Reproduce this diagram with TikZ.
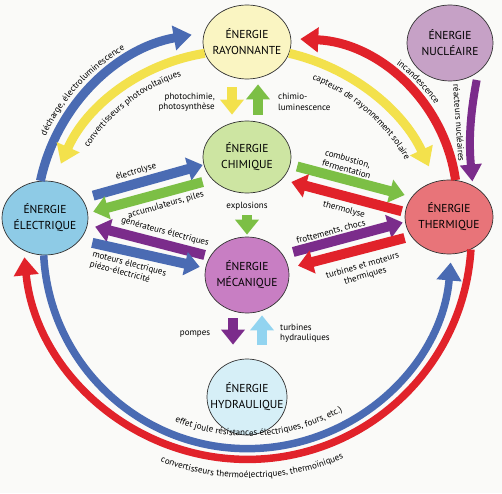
\documentclass[tikz,border=0pt]{standalone}
\usepackage{fontspec}
\setmainfont{PT Sans}
\usetikzlibrary{shapes.geometric,arrows.meta,decorations.text}

\definecolor{bleu}{HTML}{4A6BB3}
\definecolor{jaune}{HTML}{F3E14C}
\definecolor{rouge}{HTML}{E1222A}
\definecolor{vert}{HTML}{7CBF45}
\definecolor{violet}{HTML}{7B2C8B}
\definecolor{ciel}{HTML}{92D4F0}
\definecolor{fondray}{HTML}{FAF5C2}
\definecolor{fondnuc}{HTML}{C6A1C6}
\definecolor{fondchi}{HTML}{CDE5A2}
\definecolor{fondele}{HTML}{8ECBE6}
\definecolor{fondthe}{HTML}{E87479}
\definecolor{fondmec}{HTML}{C87EC3}
\definecolor{fondhyd}{HTML}{D6EFF7}
\definecolor{papier}{HTML}{FAFAF8}

\newcommand\petit{\fontsize{9}{10.5}\selectfont}

\begin{document}
\begin{tikzpicture}[x=1pt,y=1pt,
  energie/.style={ellipse, draw=black!80, line width=.7pt, inner xsep=-10pt, inner ysep=0pt,
    minimum width=88pt, minimum height=74pt, align=center, font=\fontsize{11.5}{16}\selectfont},
  fleche/.style={line width=10pt, -{Triangle[length=15pt,width=23pt]}},
  anneau/.style={line width=9pt, -{Triangle[length=18pt,width=24pt]}},
  lbl/.style={font=\petit, inner sep=0pt},
  arctxt/.style={decorate, decoration={text along path, text align=center, text={|\petit|#1}}}]

\path[use as bounding box, fill=papier] (0,0) rectangle (502,493);

\node[energie, fill=fondray] (rayonnante) at (247,451) {ÉNERGIE\\RAYONNANTE};
\node[energie, fill=fondnuc, minimum width=86pt, minimum height=76pt] (nucleaire) at (450,450) {ÉNERGIE\\NUCLÉAIRE};
\node[energie, fill=fondchi, minimum height=72pt] (chimique) at (247,336) {ÉNERGIE\\CHIMIQUE};
\node[energie, fill=fondele, minimum width=86pt] (electrique) at (45,275) {ÉNERGIE\\ÉLECTRIQUE};
\node[energie, fill=fondthe] (thermique) at (449,276) {ÉNERGIE\\THERMIQUE};
\node[energie, fill=fondmec, minimum width=84pt, minimum height=76pt] (mecanique) at (247,218) {ÉNERGIE\\MÉCANIQUE};
\node[energie, fill=fondhyd, minimum width=80pt, minimum height=76pt] (hydraulique) at (247,96) {ÉNERGIE\\HYDRAULIQUE};

\coordinate (cBleuH) at (224,273);
\coordinate (cJauneG) at (234,252);
\coordinate (cRougeH) at (293,290);
\coordinate (cJauneD) at (243,240);
\coordinate (cBleuB) at (248,249);
\coordinate (cRougeB) at (248,257);

\draw[anneau, bleu] (electrique.97) arc[start angle=168, end angle=100, radius=188];
\draw[anneau, jaune] (rayonnante.195) arc[start angle=99, end angle=156, radius=190];
\draw[anneau, rouge] (thermique.80) arc[start angle=8, end angle=87.5, radius=164];
\draw[anneau, jaune] (rayonnante.-15) arc[start angle=77, end angle=25, radius=205];
\draw[anneau, bleu, line width=7.5pt] (electrique.268) arc[start angle=183, end angle=355, radius=204];
\draw[anneau, rouge, line width=7.5pt] (thermique.-56) arc[start angle=356.4, end angle=185.6, radius=224];
\draw[violet, line width=8pt, -{Triangle[length=17pt,width=21pt]}, shorten <=8pt, shorten >=4pt]
  (nucleaire.-46) to[bend right=8] (thermique.53);

\path[arctxt={décharge, électroluminescence}] ([shift={(165:197)}]cBleuH) arc[start angle=165, end angle=110, radius=197];
\path[arctxt={convertisseurs photovoltaïques}] ([shift={(155:173)}]cJauneG) arc[start angle=155, end angle=100, radius=173];
\path[arctxt={capteurs de rayonnement solaire}] ([shift={(75:187)}]cJauneD) arc[start angle=75, end angle=23, radius=187];
\path[arctxt={incandescence}] ([shift={(62:173)}]cRougeH) arc[start angle=62, end angle=26, radius=173];
\path[arctxt={effet joule résistances électriques, fours, etc.)}] ([shift={(238:192)}]cBleuB) arc[start angle=238, end angle=309, radius=192];
\path[arctxt={convertisseurs thermoélectriques, thermoïniques}] ([shift={(234:242)}]cRougeB) arc[start angle=234, end angle=308, radius=242];

\draw[fleche, bleu, shorten <=5pt] ([yshift=21pt]electrique.east) -- ([yshift=-8pt]chimique.west);
\draw[fleche, vert, shorten >=5pt] ([yshift=-25pt]chimique.west) -- ([yshift=5pt]electrique.east);
\draw[fleche, violet, shorten >=7pt] ([yshift=20pt]mecanique.west) -- ([yshift=-7pt]electrique.east);
\draw[fleche, bleu, shorten <=4pt, shorten >=5pt] ([yshift=-24pt]electrique.east) -- ([yshift=7pt]mecanique.west);
\draw[fleche, vert, shorten <=6pt] ([yshift=-8pt]chimique.east) -- ([yshift=22pt]thermique.west);
\draw[fleche, rouge, shorten <=3pt] ([yshift=5pt]thermique.west) -- ([yshift=-25pt]chimique.east);
\draw[fleche, violet, shorten <=4pt, shorten >=2pt] ([yshift=22pt]mecanique.east) -- ([yshift=-5pt]thermique.west);
\draw[fleche, rouge, shorten >=9pt] ([yshift=-21pt]thermique.west) -- ([yshift=7pt]mecanique.east);

\draw[fleche, jaune, shorten <=8pt, shorten >=6pt] ([xshift=-15pt]rayonnante.south) -- ([xshift=-15pt]chimique.north);
\draw[fleche, vert, shorten <=6pt, shorten >=5pt] ([xshift=11pt]chimique.north) -- ([xshift=11pt]rayonnante.south);
\draw[fleche, vert, shorten <=22pt, shorten >=2pt] (chimique.south) -- (mecanique.north);
\draw[fleche, violet, shorten <=5pt, shorten >=14pt] ([xshift=-14pt]mecanique.south) -- ([xshift=-14pt]hydraulique.north);
\draw[fleche, ciel, shorten <=14pt, shorten >=2pt] ([xshift=15pt]hydraulique.north) -- ([xshift=15pt]mecanique.south);

\node[lbl, rotate=16] (lelectrolyse) at (136,321) {électrolyse};
\node[lbl, rotate=16] (laccu) at (166,288) {accumulateurs, piles};
\node[lbl, rotate=-15] (lgenerateurs) at (165,261) {générateurs électriques};
\node[lbl, rotate=-15, align=left] (lmoteurs) at (128,224) {moteurs électriques\\piézo-électricité};
\node[lbl, rotate=-16, align=left] (lcombustion) at (348,329) {combustion,\\fermentation};
\node[lbl, rotate=-15] (lthermolyse) at (344,283) {thermolyse};
\node[lbl, rotate=15] (lfrottements) at (331,261) {frottements, chocs};
\node[lbl, rotate=16, align=center] (lturbines) at (364,222) {turbines et moteurs\\thermiques};
\node[lbl, anchor=east, align=right] (lphoto) at (215,391) {photochimie,\\photosynthèse};
\node[lbl, anchor=west, align=left] (lchimio) at (278,391) {chimio-\\luminescence};
\node[lbl] (lexplosions) at (247,287) {explosions};
\node[lbl] (lpompes) at (195,159) {pompes};
\node[lbl, anchor=west, align=left] (lhydro) at (280,160) {turbines\\hydrauliques};
\node[lbl, rotate=-86] (lreacteurs) at (459,370) {réacteurs nucléaires};
\end{tikzpicture}
\end{document}
